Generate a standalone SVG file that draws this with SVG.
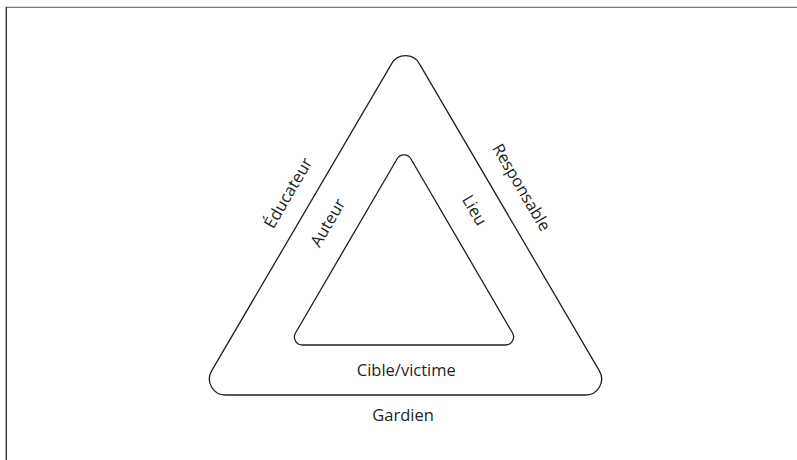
<svg xmlns="http://www.w3.org/2000/svg" width="797" height="460" viewBox="0 0 797 460">
  <style>
    .tri { fill: none; stroke: #231f20; stroke-width: 1.3; stroke-linejoin: round; }
    .lbl { font-family: "Open Sans", "Noto Sans", "Liberation Sans", sans-serif; font-size: 16.5px; fill: #231f20; text-anchor: middle; }
  </style>
  <rect width="797" height="460" fill="#ffffff"/>
  <g id="frame">
    <line x1="6" y1="7.3" x2="797" y2="7.3" stroke="#7a7a7a" stroke-width="1.3"/>
    <line x1="6.3" y1="7" x2="6.3" y2="460" stroke="#222222" stroke-width="1.3"/>
  </g>
  <g id="outer-triangle">
    <path class="tri" d="M391.7,63.55 A16,16 0 0 1 419.3,63.55 L599.39,370.91 A16,16 0 0 1 585.58,395 L225.42,395 A16,16 0 0 1 211.61,370.91 Z"/>
  </g>
  <g id="inner-triangle">
    <path class="tri" d="M397.02,158.97 A8,8 0 0 1 410.98,158.97 L512.52,333.03 A8,8 0 0 1 505.64,345 L302.36,345 A8,8 0 0 1 295.48,333.03 Z"/>
  </g>
  <g id="labels">
    <g id="label-educateur" transform="translate(287.5,192.5) rotate(-59.6)">
      <text class="lbl" x="0" y="6.5">Éducateur</text>
    </g>
    <g id="label-auteur" transform="translate(327.5,222.5) rotate(-59.6)">
      <text class="lbl" x="0" y="6">Auteur</text>
    </g>
    <g id="label-lieu" transform="translate(474.7,210) rotate(59.6)">
      <text class="lbl" x="0" y="6">Lieu</text>
    </g>
    <g id="label-responsable" transform="translate(520,188.3) rotate(59.6)">
      <text class="lbl" x="0" y="4">Responsable</text>
    </g>
    <g id="label-cible">
      <text class="lbl" x="406.3" y="376">Cible/victime</text>
    </g>
    <g id="label-gardien">
      <text class="lbl" x="403" y="421">Gardien</text>
    </g>
  </g>
</svg>
